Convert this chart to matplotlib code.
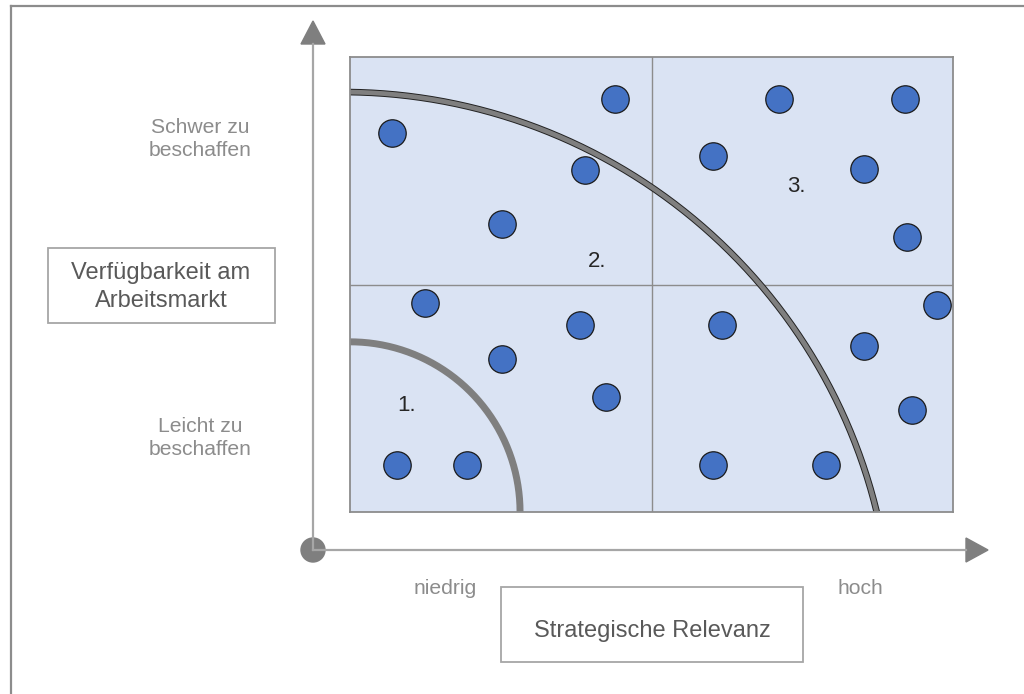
import numpy as np
import matplotlib
matplotlib.use("Agg")
import matplotlib.pyplot as plt
from matplotlib.patches import Polygon, Rectangle, Circle

plt.rcParams['font.family'] = ['Liberation Sans', 'DejaVu Sans']

# Positionen der Punkte (0..10 = ganze Matrix, 5 = Trennlinie)
relevanz = [0.70, 4.39, 3.90, 2.52, 7.11, 9.20, 6.02, 8.52, 9.24,
            1.24, 3.81, 2.52, 4.25, 0.78, 1.94,
            6.17, 9.73, 8.52, 9.32, 6.02, 7.89]
verfuegbarkeit = [8.33, 9.08, 7.52, 6.33, 9.08, 9.08, 7.82, 7.54, 6.04,
                  4.59, 4.11, 3.36, 2.53, 1.03, 1.03,
                  4.11, 4.55, 3.65, 2.24, 1.03, 1.03]

bereich_labels = ["1.", "2.", "3."]
bereich_x = [0.93, 4.10, 7.40]
bereich_y = [2.35, 5.50, 7.16]

W, H = 1024, 694
fig = plt.figure(figsize=(W / 100, H / 100), dpi=100)

# Hintergrund-Achse in Pixelkoordinaten fuer Rahmen, Pfeile, Beschriftung
bg = fig.add_axes([0, 0, 1, 1])
bg.set_xlim(0, W)
bg.set_ylim(H, 0)
bg.axis("off")

grau = "#7f7f7f"
bg.plot([11, W], [6, 6], color="#8c8c8c", lw=1.6)
bg.plot([11, 11], [6, H], color="#8c8c8c", lw=1.6)

# Achsen mit Pfeilen
bg.plot([313, 313], [550, 44], color="#a6a6a6", lw=1.6)
bg.plot([313, 966], [550, 550], color="#a6a6a6", lw=1.6)
bg.add_patch(Polygon([[301, 44], [325, 44], [313, 21]], color=grau))
bg.add_patch(Polygon([[966, 538], [966, 562], [988, 550]], color=grau))
bg.add_patch(Circle((313, 550), 12, color=grau))

# Textfelder
bg.add_patch(Rectangle((48, 248), 227, 75, fill=False, ec="#a6a6a6", lw=1.3))
bg.text(161, 287, "Verfügbarkeit am\nArbeitsmarkt", ha="center", va="center",
        fontsize=17, color="#595959", linespacing=1.4)
bg.add_patch(Rectangle((501, 587), 302, 75, fill=False, ec="#a6a6a6", lw=1.3))
bg.text(652, 631, "Strategische Relevanz", ha="center", va="center",
        fontsize=17, color="#595959")

seite = "#8c8c8c"
bg.text(200, 139, "Schwer zu\nbeschaffen", ha="center", va="center",
        fontsize=15.2, color=seite, linespacing=1.3)
bg.text(200, 438, "Leicht zu\nbeschaffen", ha="center", va="center",
        fontsize=15.2, color=seite, linespacing=1.3)
bg.text(445, 589, "niedrig", ha="center", va="center", fontsize=15.2, color=seite)
bg.text(860, 589, "hoch", ha="center", va="center", fontsize=15.2, color=seite)

# Matrix
ax = fig.add_axes([350 / W, (H - 512) / H, 603 / W, 455 / H])
ax.set_xlim(0, 10)
ax.set_ylim(0, 10)
ax.set_facecolor("#dae3f3")
ax.set_xticks([])
ax.set_yticks([])
for s in ax.spines.values():
    s.set_color("#8c8c8c")
    s.set_linewidth(1.3)
ax.axvline(5, color="#8c8c8c", lw=1)
ax.axhline(5, color="#8c8c8c", lw=1)

# kleiner Bogen (Viertelkreis um die Ecke)
t = np.linspace(0, np.pi / 2, 200)
ax.plot(2.82 * np.cos(t), 3.74 * np.sin(t), color=grau, lw=5,
        solid_capstyle="butt", zorder=2)

# grosser Bogen mit dunklem Rand
t = np.linspace(np.deg2rad(13.7), np.deg2rad(89.2), 300)
bx = -0.126 + 9.12 * np.cos(t)
by = -2.86 + 12.09 * np.sin(t)
ax.plot(bx, by, color="#222222", lw=4.8, solid_capstyle="butt", zorder=2)
ax.plot(bx, by, color=grau, lw=3.4, solid_capstyle="butt", zorder=2)

ax.scatter(relevanz, verfuegbarkeit, s=390, color="#4472c4",
           edgecolors="#1a1a1a", linewidths=0.9, zorder=3, clip_on=False)

for lab, x, y in zip(bereich_labels, bereich_x, bereich_y):
    ax.text(x, y, lab, ha="center", va="center", fontsize=16, color="#262626")

fig.savefig("out.png", dpi=100)
